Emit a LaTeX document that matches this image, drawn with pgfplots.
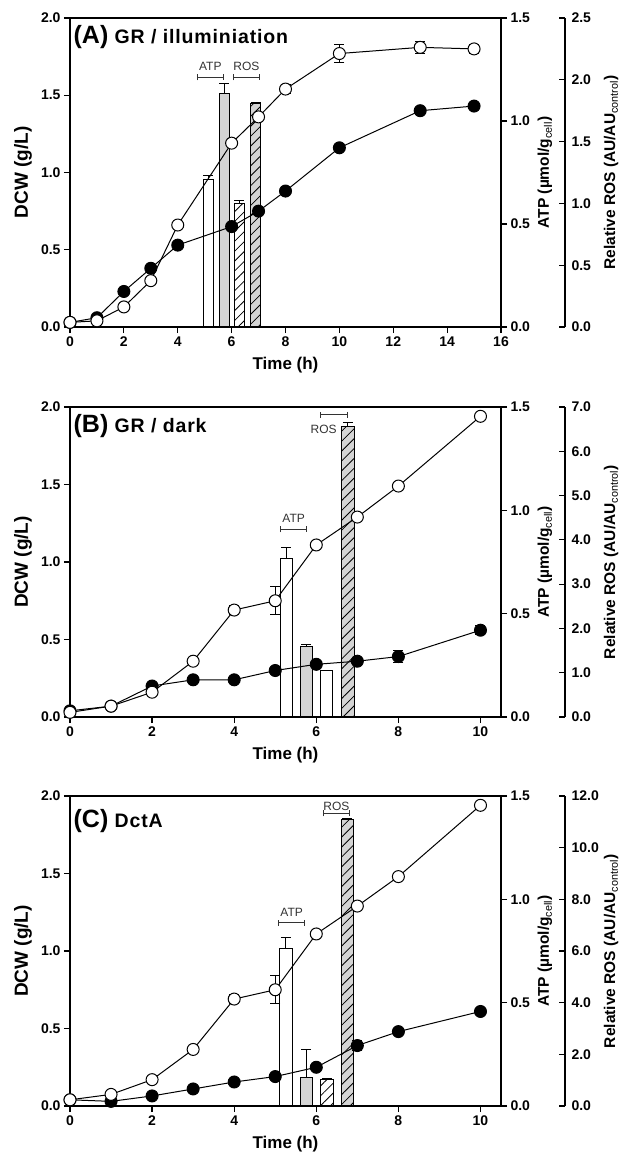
\documentclass[border=0pt]{standalone}
\usepackage{pgfplots}
\pgfplotsset{compat=1.18}
\usepackage{fontspec}
\setmainfont{Liberation Sans}
\usetikzlibrary{patterns.meta,arrows.meta}

\definecolor{barfill}{RGB}{212,212,212}

\pgfplotsset{
  panel/.style={
    scale only axis, width=431pt, anchor=south west,
    ticklabel style={font=\bfseries\fontsize{14}{14}\selectfont},
    label style={font=\bfseries\fontsize{17}{19}\selectfont},
    /pgf/number format/assume math mode=true,
    tick align=outside, major tick length=6pt,
    every tick/.style={black, line width=1.2pt},
    axis line style={line width=1.5pt},
  },
  yfmt/.style={yticklabel style={/pgf/number format/fixed, /pgf/number format/fixed zerofill, /pgf/number format/precision=1}},
  main/.style={panel, yfmt, tick pos=left, ymin=0, ymax=2, ytick={0,0.5,...,2},
    ylabel={DCW (g/L)}, xlabel={Time (h)},
    xlabel style={yshift=-4pt},
    every axis y label/.style={at={(axis description cs:-0.109,0.5)}, rotate=90, anchor=center,
      font=\bfseries\fontsize{19}{21}\selectfont}},
  atp/.style={panel, yfmt, axis y line*=right, axis x line=none, ymin=0, ymax=1.5,
    ytick={0,0.5,1,1.5}, ybar, bar shift=0pt,
    ylabel={ATP (µmol/g\textsubscript{\normalfont cell})},
    every axis y label/.style={at={(axis description cs:1.102,0.5)}, rotate=90, anchor=center,
      font=\bfseries\fontsize{15.5}{17}\selectfont}},
  rosbars/.style={panel, hide axis, ybar, bar shift=0pt},
  rosaxis/.style={panel, yfmt, width=10pt, anchor=south east, xmin=0, xmax=1,
    axis y line*=right, axis x line=none, tick align=inside,
    yticklabel style={xshift=3pt},
    ylabel={Relative ROS (AU/AU\textsubscript{\normalfont control})},
    every axis y label/.style={at={(axis description cs:5.6,0.5)}, rotate=90, anchor=center,
      font=\bfseries\fontsize{15.5}{17}\selectfont}},
  filled/.style={black, line width=1pt, mark=*, mark size=6pt, mark options={fill=black},
    error bars/.cd, y dir=both, y explicit,
    error bar style={line width=1pt}, error mark options={rotate=90, mark size=5pt, line width=1pt}},
  open/.style={black, line width=1pt, mark=*, mark size=6pt, mark options={fill=white},
    error bars/.cd, y dir=both, y explicit,
    error bar style={line width=1pt}, error mark options={rotate=90, mark size=5pt, line width=1pt}},
  plainbar/.style={draw=black, line width=0.9pt, fill=#1,
    error bars/.cd, y dir=plus, y explicit,
    error bar style={line width=1pt}, error mark options={rotate=90, mark size=5pt, line width=1pt}},
  hatchbar/.style={draw=black, line width=0.9pt, fill=#1,
    postaction={pattern={Lines[angle=45,distance=7pt,line width=0.8pt]}},
    error bars/.cd, y dir=plus, y explicit,
    error bar style={line width=1pt}, error mark options={rotate=90, mark size=5pt, line width=1pt}},
}
\tikzset{
  bracket/.style={{Bar[width=6pt]}-{Bar[width=6pt]}, line width=0.9pt, black!80},
  brtext/.style={font=\fontsize{12}{12}\selectfont, black!80},
  ptitle/.style={anchor=base west, inner sep=0pt,
    font=\bfseries\fontsize{19.5}{20}\selectfont\addfontfeatures{LetterSpace=4.5}},
}
\newcommand\plabel[1]{{\fontsize{25}{25}\selectfont\addfontfeatures{LetterSpace=0}(#1)}}

\begin{document}
\begin{tikzpicture}
\useasboundingbox (0pt,0pt) rectangle (623pt,-1159pt);

% ---------------- (A) GR / illumination ----------------
\begin{axis}[atp, at={(70pt,-327pt)}, height=309pt, xmin=0, xmax=16, bar width=0.37]
\addplot[plainbar=white] coordinates {(5.13,0.715) +- (0,0.022)};
\addplot[plainbar=barfill] coordinates {(5.72,1.135) +- (0,0.045)};
\end{axis}
\begin{axis}[rosbars, at={(70pt,-327pt)}, height=309pt, xmin=0, xmax=16, ymin=0, ymax=2.5, bar width=0.37]
\addplot[hatchbar=white] coordinates {(6.28,1.00) +- (0,0.02)};
\addplot[hatchbar=barfill] coordinates {(6.89,1.81) +- (0,0.005)};
\end{axis}
\begin{axis}[rosaxis, at={(565pt,-327pt)}, height=309pt, ymin=0, ymax=2.5, ytick={0,0.5,...,2.5}]
\end{axis}
\begin{axis}[main, at={(70pt,-327pt)}, height=309pt, xmin=0, xmax=16, xtick={0,2,...,16}]
\addplot[filled] coordinates {
  (0,0.03) (1,0.06) (2,0.23) (3,0.38) (4,0.53) (6,0.65) (7,0.75) (8,0.88)
  (10,1.16) (13,1.40) +- (0,0.02) (15,1.43)};
\addplot[open] coordinates {
  (0,0.03) (1,0.04) (2,0.13) (3,0.30) (4,0.66) (6,1.19) (7,1.36)
  (8,1.54) +- (0,0.03) (10,1.77) +- (0,0.06) (13,1.81) +- (0,0.04) (15,1.80) +- (0,0.03)};
\draw[bracket] (axis cs:4.70,1.616) -- (axis cs:5.72,1.616);
\node[brtext] at (axis cs:5.21,1.69) {ATP};
\draw[bracket] (axis cs:6.06,1.616) -- (axis cs:7.05,1.616);
\node[brtext] at (axis cs:6.55,1.69) {ROS};
\node[ptitle] at (axis description cs:0.008,0.918) {\plabel{A} GR / illuminiation};
\end{axis}

% ---------------- (B) GR / dark ----------------
\begin{axis}[atp, at={(70pt,-717pt)}, height=310pt, xmin=0, xmax=10.5, bar width=0.31]
\addplot[plainbar=white] coordinates {(5.27,0.765) +- (0,0.053)};
\addplot[plainbar=barfill] coordinates {(5.76,0.341) +- (0,0.01)};
\end{axis}
\begin{axis}[rosbars, at={(70pt,-717pt)}, height=310pt, xmin=0, xmax=10.5, ymin=0, ymax=7, bar width=0.31]
\addplot[plainbar=white] coordinates {(6.25,1.05) +- (0,0)};
\addplot[hatchbar=barfill] coordinates {(6.77,6.55) +- (0,0.1)};
\end{axis}
\begin{axis}[rosaxis, at={(565pt,-717pt)}, height=310pt, ymin=0, ymax=7, ytick={0,1,...,7}]
\end{axis}
\begin{axis}[main, at={(70pt,-717pt)}, height=310pt, xmin=0, xmax=10.5, xtick={0,2,...,10}]
\addplot[filled] coordinates {
  (0,0.04) (1,0.07) (2,0.20) (3,0.24) (4,0.24) (5,0.30) (6,0.34) (7,0.36)
  (8,0.39) +- (0,0.04) (10,0.56) +- (0,0.03)};
\addplot[open] coordinates {
  (0,0.03) (1,0.07) (2,0.16) (3,0.36) (4,0.69) +- (0,0.03) (5,0.75) +- (0,0.09)
  (6,1.11) (7,1.29) (8,1.49) (10,1.94)};
\draw[bracket] (axis cs:5.11,1.21) -- (axis cs:5.78,1.21);
\node[brtext] at (axis cs:5.45,1.28) {ATP};
\draw[bracket] (axis cs:6.10,1.95) -- (axis cs:6.76,1.95);
\node[brtext] at (axis cs:6.18,1.854) {ROS};
\node[ptitle] at (axis description cs:0.008,0.917) {\plabel{B} GR / dark};
\end{axis}

% ---------------- (C) DctA ----------------
\begin{axis}[atp, at={(70pt,-1106pt)}, height=310pt, xmin=0, xmax=10.5, bar width=0.31]
\addplot[plainbar=white] coordinates {(5.26,0.76) +- (0,0.055)};
\addplot[plainbar=barfill] coordinates {(5.76,0.14) +- (0,0.133)};
\end{axis}
\begin{axis}[rosbars, at={(70pt,-1106pt)}, height=310pt, xmin=0, xmax=10.5, ymin=0, ymax=12, bar width=0.31]
\addplot[hatchbar=white] coordinates {(6.26,1.03) +- (0,0.02)};
\addplot[hatchbar=barfill] coordinates {(6.76,11.1) +- (0,0.02)};
\end{axis}
\begin{axis}[rosaxis, at={(565pt,-1106pt)}, height=310pt, ymin=0, ymax=12, ytick={0,2,...,12}]
\end{axis}
\begin{axis}[main, at={(70pt,-1106pt)}, height=310pt, xmin=0, xmax=10.5, xtick={0,2,...,10}]
\addplot[filled] coordinates {
  (0,0.04) (1,0.03) (2,0.065) (3,0.11) (4,0.155) (5,0.19) (6,0.25)
  (7,0.39) +- (0,0.03) (8,0.48) (10,0.61)};
\addplot[open] coordinates {
  (0,0.04) (1,0.075) (2,0.17) (3,0.365) (4,0.69) +- (0,0.03) (5,0.75) +- (0,0.09)
  (6,1.11) (7,1.29) (8,1.48) (10,1.94)};
\draw[bracket] (axis cs:5.06,1.182) -- (axis cs:5.73,1.182);
\node[brtext] at (axis cs:5.40,1.25) {ATP};
\draw[bracket] (axis cs:6.16,1.888) -- (axis cs:6.82,1.888);
\node[brtext] at (axis cs:6.49,1.935) {ROS};
\node[ptitle] at (axis description cs:0.008,0.90) {\plabel{C} DctA};
\end{axis}
\end{tikzpicture}
\end{document}
